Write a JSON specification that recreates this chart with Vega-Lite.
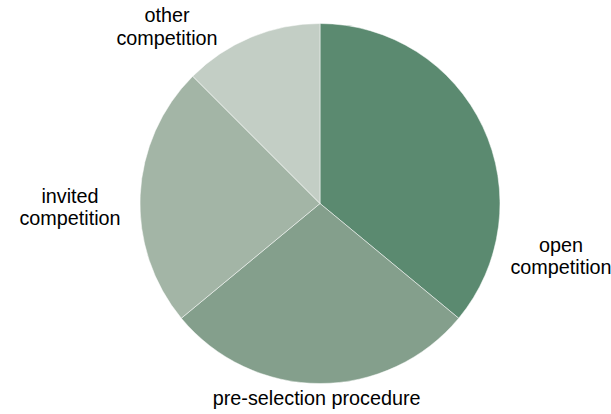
{
  "$schema": "https://vega.github.io/schema/vega-lite/v6.json",
  "width": 582,
  "height": 407,
  "autosize": {"type": "none"},
  "padding": {"left": 29, "right": 0, "top": 0, "bottom": 7},
  "background": "white",
  "config": {"view": {"stroke": null}},
  "data": {
    "values": [
      {"category": "open competition", "label": "open\ncompetition", "share": 36, "idx": 1},
      {"category": "pre-selection procedure", "label": "pre-selection procedure", "share": 28, "idx": 2},
      {"category": "invited competition", "label": "invited\ncompetition", "share": 23.5, "idx": 3},
      {"category": "other competition", "label": "other\ncompetition", "share": 12.5, "idx": 4}
    ]
  },
  "encoding": {
    "theta": {"field": "share", "type": "quantitative", "stack": true},
    "order": {"field": "idx", "type": "quantitative"}
  },
  "layer": [
    {
      "mark": {"type": "arc", "outerRadius": 180, "stroke": "white", "strokeWidth": 0.5},
      "encoding": {
        "color": {
          "field": "category",
          "type": "nominal",
          "scale": {
            "domain": ["open competition", "pre-selection procedure", "invited competition", "other competition"],
            "range": ["#5b8a70", "#849f8c", "#a3b5a6", "#c3cec5"]
          },
          "legend": null
        }
      }
    },
    {
      "mark": {"type": "text", "radius": 244.7, "thetaOffset": 0.613, "font": "Liberation Sans", "fontSize": 19.8, "lineBreak": "\n", "lineHeight": 22.5, "align": "center", "baseline": "middle", "color": "#000000"},
      "encoding": {"text": {"condition": {"test": "datum.category === 'open competition'", "field": "label"}, "value": ""}}
    },
    {
      "mark": {"type": "text", "radius": 195.5, "thetaOffset": 0.017, "font": "Liberation Sans", "fontSize": 19.8, "lineBreak": "\n", "lineHeight": 22.5, "align": "center", "baseline": "middle", "color": "#000000"},
      "encoding": {"text": {"condition": {"test": "datum.category === 'pre-selection procedure'", "field": "label"}, "value": ""}}
    },
    {
      "mark": {"type": "text", "radius": 250.1, "thetaOffset": -0.02, "font": "Liberation Sans", "fontSize": 19.8, "lineBreak": "\n", "lineHeight": 22.5, "align": "center", "baseline": "middle", "color": "#000000"},
      "encoding": {"text": {"condition": {"test": "datum.category === 'invited competition'", "field": "label"}, "value": ""}}
    },
    {
      "mark": {"type": "text", "radius": 242.2, "thetaOffset": -0.291, "font": "Liberation Sans", "fontSize": 19.8, "lineBreak": "\n", "lineHeight": 23.5, "align": "center", "baseline": "middle", "color": "#000000"},
      "encoding": {"text": {"condition": {"test": "datum.category === 'other competition'", "field": "label"}, "value": ""}}
    }
  ]
}
